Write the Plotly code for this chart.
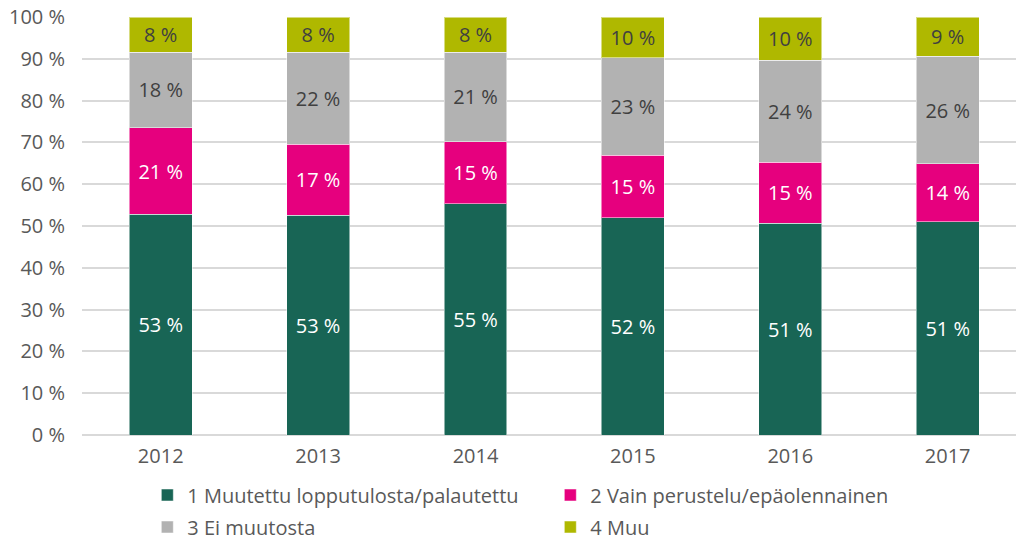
import plotly.graph_objects as go

years = ["2012", "2013", "2014", "2015", "2016", "2017"]
series_names = [
    "1 Muutettu lopputulosta/palautettu",
    "2 Vain perustelu/epäolennainen",
    "3 Ei muutosta",
    "4 Muu",
]
muutettu = [52.8, 52.6, 55.3, 52.0, 50.7, 51.0]
vain_perustelu = [20.7, 16.9, 14.9, 14.9, 14.6, 13.9]
ei_muutosta = [18.1, 22.1, 21.4, 23.3, 24.3, 25.7]
muu = [8.4, 8.4, 8.4, 9.8, 10.4, 9.4]
y_ticks = [0, 10, 20, 30, 40, 50, 60, 70, 80, 90, 100]
y_tick_labels = [f"{t} %" for t in y_ticks]

colors = ["#186555", "#E6007E", "#B2B2B2", "#AFB800"]
text_colors = ["#FFFFFF", "#FFFFFF", "#404040", "#404040"]
legends = ["legend", "legend", "legend2", "legend2"]
FONT = "Open Sans"
FS = 20

fig = go.Figure()
for name, vals, c, tc, lg in zip(series_names, [muutettu, vain_perustelu, ei_muutosta, muu], colors, text_colors, legends):
    fig.add_trace(go.Bar(
        x=years, y=vals, name=name,
        marker=dict(color=c, line=dict(color="rgba(255,255,255,0.5)", width=1)),
        width=0.4,
        texttemplate="%{y:.0f} %", textposition="inside", insidetextanchor="middle",
        textangle=0, constraintext="none",
        textfont=dict(family=FONT, size=FS, color=tc),
        legend=lg, hoverinfo="skip",
    ))

leg_common = dict(orientation="h", xref="container", yref="container", x=0.145,
                  xanchor="left", yanchor="middle", entrywidth=358, entrywidthmode="pixels",
                  traceorder="normal", font=dict(family=FONT, size=FS, color="#595959"),
                  itemclick=False)

fig.update_layout(
    barmode="stack",
    width=1016, height=540,
    margin=dict(l=82, r=0, t=17, b=105),
    plot_bgcolor="white", paper_bgcolor="white",
    font=dict(family=FONT, size=FS, color="#595959"),
    showlegend=True,
    legend=dict(leg_common, y=1 - 495/540),
    legend2=dict(leg_common, y=1 - 527/540),
)
fig.update_xaxes(type="category", range=[-0.5, 5.434], showline=False,
                 ticks="outside", ticklen=3, tickcolor="rgba(0,0,0,0)",
                 tickfont=dict(size=FS, color="#595959"))
fig.update_yaxes(range=[0, 100], tickvals=y_ticks, ticktext=y_tick_labels,
                 showgrid=True, gridcolor="#D9D9D9", gridwidth=1.5,
                 zeroline=True, zerolinecolor="#D9D9D9", zerolinewidth=1.5,
                 ticks="outside", ticklen=12, tickcolor="rgba(0,0,0,0)",
                 tickfont=dict(size=FS, color="#595959"))

fig.write_html("out.html", config={"displayModeBar": False},
               post_script="document.body.style.margin='0';document.body.style.overflow='hidden';")
